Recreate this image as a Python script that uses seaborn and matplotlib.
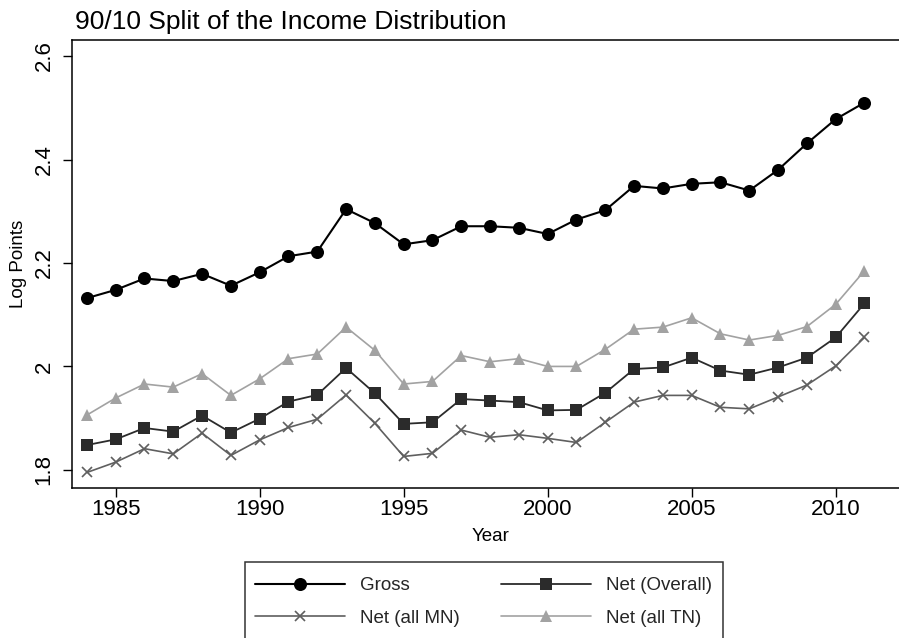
import numpy as np
import pandas as pd
import matplotlib
matplotlib.use("Agg")
import matplotlib.pyplot as plt
from matplotlib.patches import Rectangle
import seaborn as sns

# Annual 90/10 log-point gaps
years = list(range(1984, 2012))
gross = [2.132, 2.148, 2.170, 2.165, 2.179, 2.156, 2.182, 2.213, 2.222, 2.304,
         2.277, 2.236, 2.244, 2.271, 2.271, 2.268, 2.256, 2.284, 2.302, 2.349,
         2.344, 2.353, 2.356, 2.340, 2.380, 2.431, 2.478, 2.510]
net_overall = [1.848, 1.859, 1.881, 1.874, 1.905, 1.872, 1.899, 1.932, 1.945, 1.997,
               1.948, 1.889, 1.892, 1.937, 1.934, 1.931, 1.915, 1.916, 1.949, 1.995,
               1.998, 2.017, 1.992, 1.984, 1.998, 2.017, 2.056, 2.122]
net_mn = [1.795, 1.815, 1.841, 1.831, 1.871, 1.828, 1.858, 1.882, 1.898, 1.945,
          1.890, 1.826, 1.832, 1.877, 1.863, 1.868, 1.861, 1.853, 1.892, 1.931,
          1.944, 1.944, 1.921, 1.918, 1.941, 1.964, 2.001, 2.056]
net_tn = [1.906, 1.939, 1.966, 1.960, 1.986, 1.944, 1.976, 2.015, 2.024, 2.076,
          2.031, 1.966, 1.971, 2.021, 2.009, 2.015, 2.000, 2.000, 2.033, 2.072,
          2.076, 2.094, 2.063, 2.051, 2.060, 2.077, 2.120, 2.185]

series_labels = ["Gross", "Net (Overall)", "Net (all MN)", "Net (all TN)"]
x_ticks = [1985, 1990, 1995, 2000, 2005, 2010]
y_ticks = [1.8, 2.0, 2.2, 2.4, 2.6]
y_tick_labels = ["1.8", "2", "2.2", "2.4", "2.6"]

sns.set_theme(style="white")
plt.rcParams["font.family"] = ["Liberation Sans", "DejaVu Sans"]

W, H = 899, 638
fig = plt.figure(figsize=(W / 100, H / 100), dpi=100)
ax = fig.add_axes([72 / W, 1 - 488 / H, (910 - 72) / W, 448 / H])

styles = [
    dict(color="#000000", marker="o", markersize=9.4, linewidth=1.5,
         markeredgewidth=0),
    dict(color="#2b2b2b", marker="s", markersize=8.8, linewidth=1.3,
         markeredgewidth=0),
    dict(color="#5f5f5f", marker="x", markersize=6.8, linewidth=1.2,
         markeredgewidth=1.2),
    dict(color="#a2a2a2", marker="^", markersize=8.6, linewidth=1.2,
         markeredgewidth=0),
]
values = [gross, net_overall, net_mn, net_tn]

for vals, lab, st in zip(values, series_labels, styles):
    df = pd.DataFrame({"Year": years, "value": vals})
    sns.lineplot(data=df, x="Year", y="value", ax=ax, label=lab,
                 legend=False, markeredgecolor=st["color"],
                 markerfacecolor=st["color"], **st)
if ax.get_legend() is not None:
    ax.get_legend().remove()
handles, labels = ax.get_legend_handles_labels()

ax.set_xlim(1983.483, 2012.58)
ax.set_ylim(1.765, 2.631)
ax.set_xticks(x_ticks)
ax.set_xticklabels([str(t) for t in x_ticks])
ax.set_yticks(y_ticks)
ax.set_yticklabels(y_tick_labels, rotation=90, va="center")

for side in ["left", "top", "bottom"]:
    ax.spines[side].set_visible(True)
    ax.spines[side].set_color("black")
    ax.spines[side].set_linewidth(1.1)
ax.spines["right"].set_visible(False)

ax.tick_params(axis="both", which="major", direction="out", length=6.5,
               width=1.0, color="black", labelsize=16, labelcolor="black")
ax.tick_params(axis="x", pad=1.5, bottom=True)
ax.tick_params(axis="y", pad=6, left=True)
ax.grid(False)

ax.set_xlabel("Year", fontsize=13.5, color="black")
ax.set_ylabel("Log Points", fontsize=13.5, color="black")
ax.xaxis.set_label_coords(0.5, (488 - 536.5) / 448)
ax.xaxis.label.set_va("center")
ax.yaxis.set_label_coords((18.5 - 72) / 838, 0.5)
ax.yaxis.label.set_va("center")

ax.set_title("90/10 Split of the Income Distribution", loc="left",
             fontsize=19, color="black", pad=7.7, x=0.004)

# Legend: two columns inside a plain box that runs off the bottom edge
order = [0, 2, 1, 3]
leg = fig.legend([handles[i] for i in order], [labels[i] for i in order],
                 ncol=2, loc="upper left",
                 bbox_to_anchor=(255 / W, 1 - 577 / H),
                 fontsize=13.5, frameon=False, numpoints=1,
                 handlelength=4.8, handletextpad=0.8, columnspacing=2.2,
                 labelspacing=0.82, borderpad=0, borderaxespad=0)
fig.patches.append(Rectangle((245 / W, 1 - 641 / H), (723 - 245) / W,
                             (641 - 562) / H, transform=fig.transFigure,
                             fill=False, edgecolor="#333333", linewidth=1.1))

fig.savefig("out.png", dpi=100, facecolor="white")
